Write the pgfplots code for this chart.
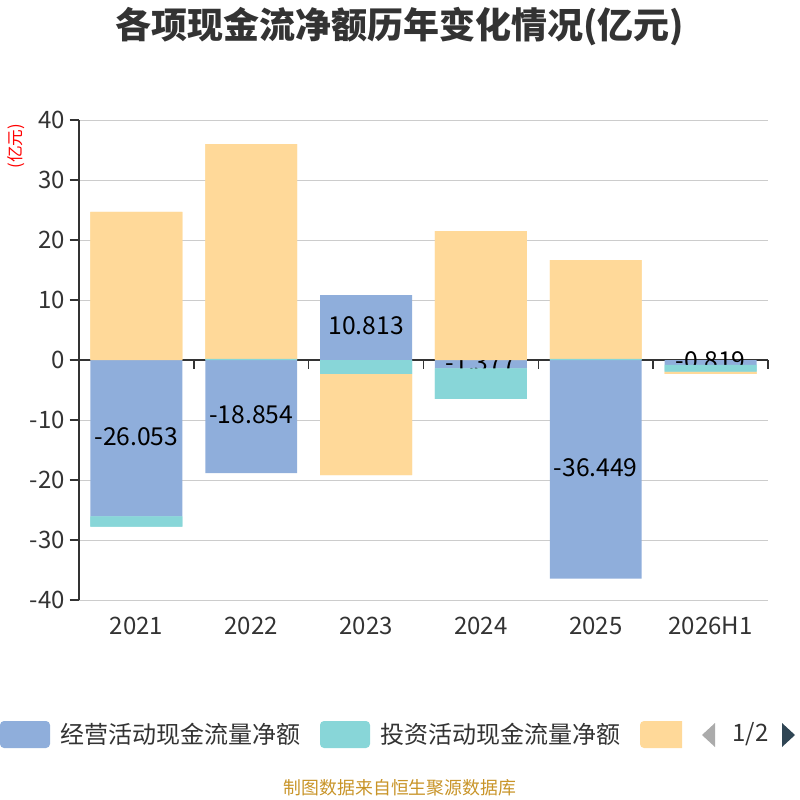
\documentclass[border=0pt]{standalone}
\usepackage{pgfplots}
\pgfplotsset{compat=1.18}
\usepackage{fontspec}
\setmainfont{Noto Sans CJK SC}
\definecolor{cblue}{RGB}{143,174,219}
\definecolor{cteal}{RGB}{136,214,216}
\definecolor{corange}{RGB}{255,217,153}
\definecolor{c333}{RGB}{51,51,51}
\definecolor{cgrid}{RGB}{204,204,204}
\definecolor{cfoot}{RGB}{200,148,40}
\definecolor{cnav}{RGB}{47,69,84}
\newcommand\lbl[1]{\raisebox{-5.4pt}[0pt][0pt]{#1}}
\pgfplotstableread{
x  op       inv    fin
0  -26.053  -1.73  24.7
1  -18.854   0.2   35.8
2   10.813  -2.33 -16.85
3   -1.377  -5.12  21.5
4  -36.449   0.2   16.45
5   -0.819  -1.1   -0.4
}\cash
\pgfplotsset{
  base/.style={
    at={(59.25pt,-450pt)}, anchor=south west,
    scale only axis, width=516.75pt, height=360pt,
    xmin=-0.5, xmax=5.5, ymin=-40, ymax=40,
    ybar stacked, stack negative=separate, bar width=0.8,
  }
}
\begin{document}
\begin{tikzpicture}
\useasboundingbox (0,0) rectangle (600pt,-600pt);
\begin{axis}[
  base,
  xtick={0,...,5}, xticklabels={2021,2022,2023,2024,2025,2026H1},
  ytick={-40,-30,...,40}, yticklabels={-40,-30,-20,-10,0,10,20,30,40},
  axis lines*=left,
  x axis line style={draw=none},
  y axis line style={draw=c333, line width=1.1pt},
  xtick style={draw=none},
  ytick style={draw=c333, line width=0.8pt},
  tick align=outside, major tick length=7pt,
  ymajorgrids, grid style={draw=cgrid, line width=0.75pt},
  extra y ticks={0}, extra y tick labels={},
  extra y tick style={grid style={draw=c333, line width=1.1pt}},
  ticklabel style={font=\fontsize{18}{18}\selectfont, text=c333},
  xticklabel style={yshift=-2pt},
  every node near coord/.append style={font=\fontsize{18.5}{18.5}\selectfont, text=black, inner sep=0pt},
  clip=false,
]
\addplot[fill=cblue, draw=none, point meta=explicit symbolic, nodes near coords={\lbl{\pgfplotspointmeta}}]
  table[x=x, y=op, meta=op] {\cash};
\addplot[fill=cteal, draw=none] table[x=x, y=inv] {\cash};
\addplot[fill=corange, draw=none] table[x=x, y=fin] {\cash};
\pgfplotsinvokeforeach{-0.5,0.5,1.5,2.5,3.5,4.5,5.5}{
  \draw[c333, line width=1.1pt] (axis cs:#1,0) -- (axis cs:#1,-1.45);
}
\end{axis}
% second pass: the later series are drawn over the first series' labels
\begin{axis}[base, hide axis]
\addplot[fill=none, draw=none] table[x=x, y=op] {\cash};
\addplot[fill=cteal, draw=none] table[x=x, y=inv] {\cash};
\addplot[fill=corange, draw=none] table[x=x, y=fin] {\cash};
\end{axis}
\begin{scope}[x=0.75pt,y=-0.75pt]
\node[font=\fontsize{27}{27}\selectfont\bfseries, text=c333] at (400,27) {各项现金流净额历年变化情况(亿元)};
\node[font=\fontsize{12.5}{12.5}\selectfont, text=red, rotate=90] at (16,146) {(亿元)};
% legend
\fill[cblue, rounded corners=3pt] (0,721) rectangle (50,748);
\node[anchor=west, font=\fontsize{18}{18}\selectfont, text=c333, inner sep=0pt] at (60,734.5) {经营活动现金流量净额};
\fill[cteal, rounded corners=3pt] (320,721) rectangle (370,748);
\node[anchor=west, font=\fontsize{18}{18}\selectfont, text=c333, inner sep=0pt] at (380,734.5) {投资活动现金流量净额};
\begin{scope}
\clip (640,715) rectangle (682,755);
\fill[corange, rounded corners=3pt] (640,721) rectangle (700,748);
\end{scope}
\fill[black!33] (715,723) -- (702,735) -- (715,747) -- cycle;
\node[anchor=west, font=\fontsize{18}{18}\selectfont, text=c333, inner sep=0pt] at (732,734.5) {1/2};
\fill[cnav] (782,723) -- (795,735) -- (782,747) -- cycle;
\node[font=\fontsize{13.4}{13.4}\selectfont, text=cfoot] at (400,788) {制图数据来自恒生聚源数据库};
\end{scope}
\end{tikzpicture}
\end{document}
